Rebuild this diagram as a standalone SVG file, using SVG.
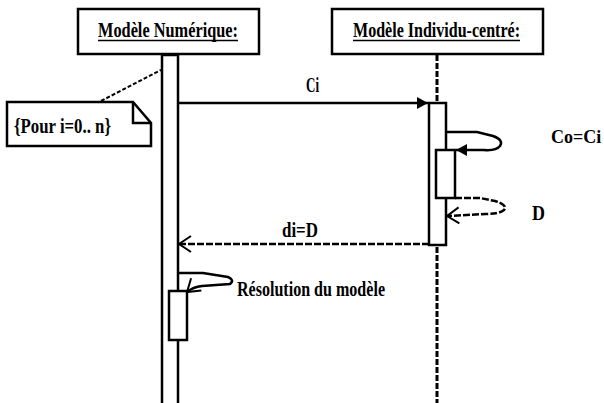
<svg xmlns="http://www.w3.org/2000/svg" width="604" height="403" viewBox="0 0 604 403">
<style>
  .box{fill:#fff;stroke:#000;stroke-width:2.5}
  .ln{fill:none;stroke:#000;stroke-width:2.5}
  .dash{fill:none;stroke:#000;stroke-width:2.5;stroke-dasharray:7 2}
  .life{fill:none;stroke:#000;stroke-width:3;stroke-dasharray:6 2}
  .t{font-family:"Liberation Serif","Times New Roman",serif;font-size:21px;fill:#000;font-weight:bold}
</style>
<defs>
  <marker id="fill" markerWidth="12" markerHeight="12" refX="11" refY="6" orient="auto" markerUnits="userSpaceOnUse">
    <path d="M0,0 L11,6 L0,12 z" fill="#000"/>
  </marker>
  <marker id="open" markerWidth="14" markerHeight="18" refX="13" refY="9" orient="auto" markerUnits="userSpaceOnUse">
    <path d="M1,1 L13,9 L1,17" fill="none" stroke="#000" stroke-width="2"/>
  </marker>
</defs>

<g id="lifeline-numerique">
  <rect class="box" x="162" y="55" width="16" height="360"/>
  <rect class="box" x="169" y="291" width="18" height="49"/>
</g>
<g id="lifeline-individu">
  <line class="life" x1="437" y1="55" x2="437" y2="403"/>
  <rect class="box" x="429" y="103" width="17" height="142"/>
  <rect class="box" x="436" y="150" width="19" height="48"/>
</g>

<g id="node-numerique">
  <rect class="box" x="78" y="9" width="181" height="45"/>
  <text class="t" x="98" y="37" textLength="140" lengthAdjust="spacingAndGlyphs">Modèle Numérique:</text>
  <line x1="98" y1="40.5" x2="238" y2="40.5" stroke="#000" stroke-width="1.5"/>
</g>
<g id="node-individu">
  <rect class="box" x="332" y="9" width="211" height="45"/>
  <text class="t" x="353" y="37" textLength="167" lengthAdjust="spacingAndGlyphs">Modèle Individu-centré:</text>
  <line x1="353" y1="40.5" x2="520" y2="40.5" stroke="#000" stroke-width="1.5"/>
</g>

<g id="note">
  <path class="box" d="M7,102 L133,102 L151,123 L151,146 L7,146 z"/>
  <path class="ln" d="M133,102 L133,123 L151,123"/>
  <text class="t" x="14" y="133" textLength="97" lengthAdjust="spacingAndGlyphs">{Pour i=0.. n}</text>
</g>

<g id="connectors">
  <line x1="101" y1="101" x2="161" y2="70" stroke="#000" stroke-width="2" stroke-dasharray="4 2"/>
  <line class="ln" x1="178" y1="103" x2="428" y2="103" marker-end="url(#fill)"/>
  <path class="ln" d="M446,132 L477,132 L493,136 Q504,140 500,146 Q496,151 484,150 L456,150" marker-end="url(#fill)"/>
  <path class="dash" d="M455,198 L480,198 L495,201 Q508,205 504,210 Q499,214 486,214 L447,216" marker-end="url(#open)"/>
  <line class="dash" x1="429" y1="244" x2="179" y2="244" marker-end="url(#open)"/>
  <path class="ln" d="M178,273 L203,273 L228,277 Q235,280 230,284 L202,286 Q193,287 187,292" marker-end="url(#open)"/>
</g>

<g id="labels">
  <text class="t" x="306" y="92" textLength="13" lengthAdjust="spacingAndGlyphs">Ci</text>
  <text class="t" x="551" y="143" style="font-size:18px">Co=Ci</text>
  <text class="t" x="532" y="220" textLength="13" lengthAdjust="spacingAndGlyphs">D</text>
  <text class="t" x="282" y="237" textLength="36" lengthAdjust="spacingAndGlyphs">di=D</text>
  <text class="t" x="237" y="296" textLength="148" lengthAdjust="spacingAndGlyphs">Résolution du modèle</text>
</g>
</svg>
